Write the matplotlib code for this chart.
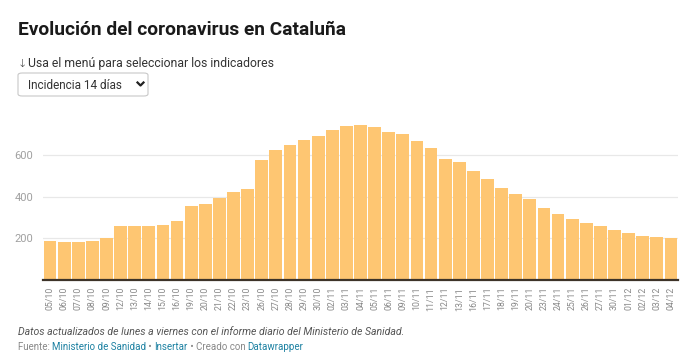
import matplotlib
matplotlib.use("Agg")
import matplotlib.pyplot as plt
from matplotlib.patches import FancyBboxPatch
from matplotlib.lines import Line2D

dates = ["05/10", "06/10", "07/10", "08/10", "09/10", "12/10", "13/10", "14/10", "15/10", "16/10",
         "19/10", "20/10", "21/10", "22/10", "23/10", "26/10", "27/10", "28/10", "29/10", "30/10",
         "02/11", "03/11", "04/11", "05/11", "06/11", "09/11", "10/11", "11/11", "12/11", "13/11",
         "16/11", "17/11", "18/11", "19/11", "20/11", "23/11", "24/11", "25/11", "26/11", "27/11",
         "30/11", "01/12", "02/12", "03/12", "04/12"]
incidencia = [188, 183, 183, 186, 204, 259, 259, 259, 267, 284,
              355, 368, 393, 424, 440, 578, 625, 650, 674, 694,
              721, 744, 747, 739, 713, 705, 671, 638, 583, 570,
              524, 485, 443, 414, 389, 347, 318, 292, 275, 259,
              241, 228, 212, 209, 204]
yticks = [200, 400, 600]

W, H = 700, 359
plt.rcParams['font.family'] = ['Roboto', 'DejaVu Sans']
fig = plt.figure(figsize=(W / 100, H / 100), dpi=100)
fig.patch.set_facecolor('white')

def fx(px):
    return px / W

def fy(py):
    return 1 - py / H

ax = fig.add_axes([fx(43), fy(280), fx(678) - fx(43), (280 - 100) / H])
x = list(range(len(dates)))
ax.bar(x, incidencia, width=0.9, color='#fec672', zorder=2)
ax.set_xlim(-0.5, len(dates) - 0.5)
ax.set_ylim(0, 867)
for s in ax.spines.values():
    s.set_visible(False)
ax.axhline(0, color='#3d3328', lw=1.6, zorder=3, clip_on=False)
for v in yticks:
    ax.axhline(v, color='#e8e8e8', lw=0.9, zorder=1)
ax.set_yticks(yticks)
ax.set_yticklabels([str(v) for v in yticks], fontsize=8, color='#a0a0a0')
ax.tick_params(axis='y', length=0, pad=7)
ax.set_xticks(x)
ax.set_xticklabels(dates, rotation=90, fontsize=6.3, color='#888888')
ax.tick_params(axis='x', length=0, pad=5)

fig.text(fx(18), fy(35), "Evolución del coronavirus en Cataluña", fontsize=13.8, fontweight='bold',
         color='#1a1a1a', va='baseline', ha='left')
fig.text(fx(18), fy(66.5), "↓", fontsize=8, color='#333333', va='baseline', ha='left',
         family=['DejaVu Sans'], fontweight='light')
fig.text(fx(28), fy(66.5), "Usa el menú para seleccionar los indicadores", fontsize=8.8,
         color='#333333', va='baseline', ha='left')

box = FancyBboxPatch((fx(18), fy(96)), fx(148) - fx(18), (96 - 73) / H,
                     boxstyle="round,pad=0,rounding_size=0.006", transform=fig.transFigure,
                     facecolor='white', edgecolor='#c8c8c8', lw=0.8)
fig.patches.append(box)
fig.text(fx(28), fy(89), "Incidencia 14 días", fontsize=8.5, color='#333333', va='baseline', ha='left')
fig.lines.append(Line2D([fx(137.5), fx(140.5), fx(143.5)], [fy(82.5), fy(85.5), fy(82.5)],
                        transform=fig.transFigure, color='#222222', lw=1.6))

fig.text(fx(18), fy(335), "Datos actualizados de lunes a viernes con el informe diario del Ministerio de Sanidad.",
         fontsize=7.6, style='italic', color='#555555', va='baseline', ha='left')

fig.canvas.draw()
renderer = fig.canvas.get_renderer()
pieces = [("Fuente: ", '#888888'), ("Ministerio de Sanidad", '#1d81a2'), (" • ", '#888888'),
          ("Insertar", '#1d81a2'), (" • Creado con ", '#888888'), ("Datawrapper", '#1d81a2')]
fs = 7.0
prefix = ""
for txt, col in pieces:
    if prefix:
        tmp = fig.text(0, 0, prefix + "|", fontsize=fs)
        bar = fig.text(0, 0, "|", fontsize=fs)
        wpx = tmp.get_window_extent(renderer=renderer).width - bar.get_window_extent(renderer=renderer).width
        tmp.remove()
        bar.remove()
    else:
        wpx = 0
    fig.text(fx(18 + wpx), fy(350.5), txt, fontsize=fs, color=col, va='baseline', ha='left')
    prefix += txt

fig.savefig("out.png", dpi=100, facecolor='white')
